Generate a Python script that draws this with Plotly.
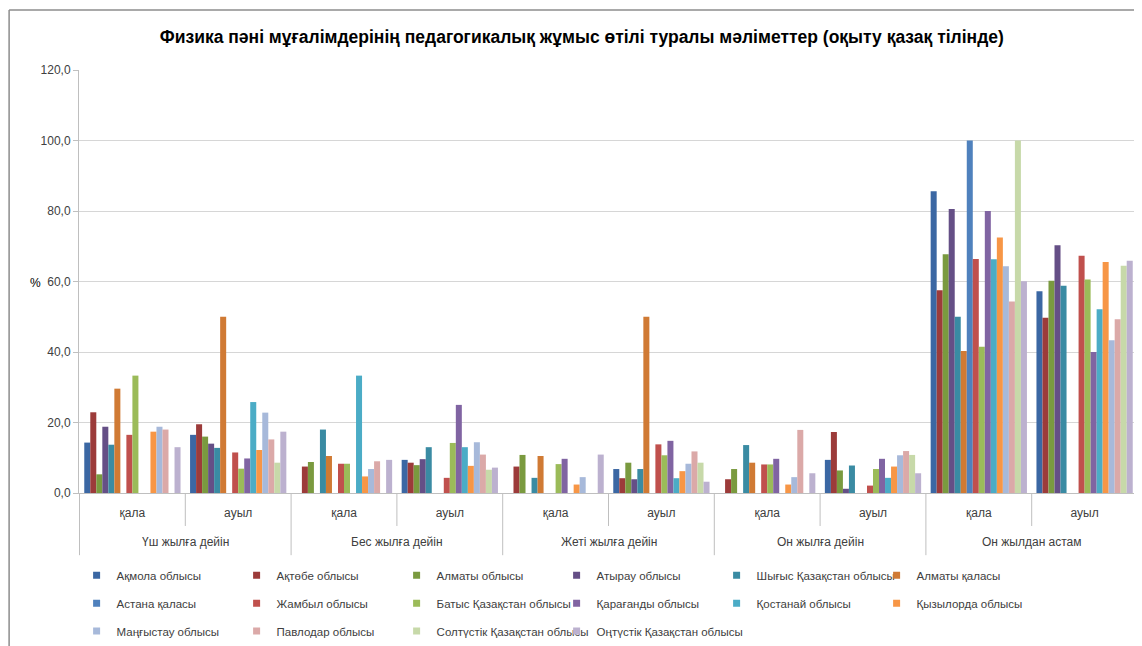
import plotly.graph_objects as go

group_names = ["Үш жылға дейін", "Бес жылға дейін", "Жеті жылға дейін",
               "Он жылға дейін", "Он жылдан астам"]
place_names = ["қала", "ауыл"]
categories = [g + " / " + p for g in group_names for p in place_names]
place_labels = [p for g in group_names for p in place_names]

regions = ["Ақмола облысы", "Ақтөбе облысы", "Алматы облысы", "Атырау облысы",
           "Шығыс Қазақстан облысы", "Алматы қаласы", "Астана қаласы", "Жамбыл облысы",
           "Батыс Қазақстан облысы", "Қарағанды облысы", "Қостанай облысы", "Қызылорда облысы",
           "Маңғыстау облысы", "Павлодар облысы", "Солтүстік Қазақстан облысы",
           "Оңтүстік Қазақстан облысы"]

colors = ["#3B67A3", "#9C3B3A", "#7A9A3F", "#654F86", "#3A8BA3", "#D07A34",
          "#4F81BD", "#C0504D", "#9BBB59", "#8064A2", "#4BACC6", "#F79646",
          "#A7B9DA", "#DBA9A8", "#C7D9A9", "#BCB1CF"]

# values per region, one per category (%)
akmola =     [14.3, 16.5, 0.0, 9.4, 0.0, 6.8, 0.0, 9.4, 85.6, 57.2]
aktobe =     [22.9, 19.5, 7.5, 8.6, 7.5, 4.2, 3.9, 17.3, 57.5, 49.7]
almaty =     [5.3, 16.0, 8.8, 7.9, 10.8, 8.6, 6.8, 6.4, 67.7, 60.2]
atyrau =     [18.8, 14.0, 0.0, 9.6, 0.0, 3.9, 0.0, 1.2, 80.6, 70.3]
shygys =     [13.7, 12.8, 18.0, 13.0, 4.3, 6.8, 13.6, 7.8, 50.0, 58.8]
almaty_c =   [29.6, 50.0, 10.5, 0.0, 10.5, 50.0, 8.6, 0.0, 40.3, 0.0]
astana =     [0.0, 0.0, 0.0, 0.0, 0.0, 0.0, 0.0, 0.0, 100.0, 0.0]
zhambyl =    [16.5, 11.5, 8.3, 4.3, 0.0, 13.8, 8.1, 2.1, 66.4, 67.3]
batys =      [33.3, 6.9, 8.3, 14.2, 8.2, 10.7, 8.1, 6.8, 41.5, 60.6]
karagandy =  [0.0, 9.8, 0.0, 25.0, 9.7, 14.8, 9.7, 9.7, 80.0, 40.0]
kostanay =   [0.0, 25.8, 33.3, 13.0, 0.0, 4.2, 0.0, 4.3, 66.3, 52.1]
kyzylorda =  [17.4, 12.2, 4.7, 7.7, 2.4, 6.2, 2.4, 7.5, 72.5, 65.5]
mangystau =  [18.8, 22.8, 6.8, 14.4, 4.5, 8.3, 4.5, 10.7, 64.3, 43.3]
pavlodar =   [18.0, 15.2, 9.0, 10.9, 0.0, 11.8, 17.9, 11.9, 54.3, 49.3]
soltustik =  [0.0, 8.6, 0.0, 6.6, 0.0, 8.6, 0.0, 10.8, 100.0, 64.5]
ontustik =   [13.0, 17.4, 9.4, 7.2, 10.9, 3.2, 5.6, 5.6, 60.1, 65.9]

series = [akmola, aktobe, almaty, atyrau, shygys, almaty_c, astana, zhambyl,
          batys, karagandy, kostanay, kyzylorda, mangystau, pavlodar, soltustik, ontustik]

font = "Liberation Sans"
axis_grey = "#BFBFBF"
legend_ids = ["legend", "legend2", "legend3"]

fig = go.Figure()
for name, vals, c in zip(regions, series, colors):
    fig.add_trace(go.Bar(name=name, x=categories, y=vals, marker_color=c,
                         marker_line_width=0, showlegend=False, legendgroup=name))

# small square legend keys, six per row like the original
for i, (name, c) in enumerate(zip(regions, colors)):
    fig.add_trace(go.Scatter(name=name, x=[None], y=[None], mode="markers",
                             marker=dict(symbol="square", size=7, color=c),
                             legend=legend_ids[i // 6], legendgroup=name))
# empty entry so the last row is not cut off
fig.add_trace(go.Scatter(name=" ", x=[None], y=[None], mode="markers",
                         marker=dict(color="rgba(0,0,0,0)"), legend="legend3",
                         hoverinfo="skip"))

# the page body adds an 8px margin, so the figure is 8px smaller each way
legend_common = dict(orientation="h", xref="container", yref="container",
                     x=0.0605, xanchor="left", yanchor="middle",
                     entrywidth=115, itemwidth=30, bgcolor="rgba(0,0,0,0)",
                     font=dict(family=font, size=11.5, color="#404040"))
fig.update_layout(
    width=1134, height=638,
    barmode="group", bargap=0.09, bargroupgap=0,
    separators=", ",
    paper_bgcolor="white", plot_bgcolor="white",
    margin=dict(l=71, r=4, t=62, b=153),
    font=dict(family=font, size=12, color="#404040"),
    title=dict(text="<b>Физика пәні мұғалімдерінің педагогикалық жұмыс өтілі туралы мәліметтер (оқыту қазақ тілінде)</b>",
               x=0.506, xanchor="center", y=0.955, yanchor="middle",
               font=dict(family=font, size=17.5, color="black")),
    legend=dict(y=0.111, **legend_common),
    legend2=dict(y=0.067, **legend_common),
    legend3=dict(y=0.0235, **legend_common),
)
fig.update_yaxes(range=[0, 120], dtick=20, tickformat=".1f", showgrid=True,
                 gridcolor="#D6D6D6", showline=True, linecolor=axis_grey,
                 ticks="outside", ticklen=5, tickcolor=axis_grey, zeroline=False,
                 tickfont=dict(size=12, color="#404040"))
fig.update_xaxes(type="category", showline=True, linecolor=axis_grey,
                 tickvals=categories, ticktext=place_labels, ticks="",
                 ticklabelstandoff=9, automargin=False,
                 tickfont=dict(size=12, color="#404040"))

fig.add_annotation(text="%", xref="paper", yref="paper", x=-0.048, y=0.496,
                   showarrow=False, font=dict(size=12, color="black"))

# group labels and separators under the axis
for k, g in enumerate(group_names):
    fig.add_annotation(text=g, xref="x", yref="paper", x=2 * k + 0.5, y=-0.116,
                       showarrow=False, yanchor="middle",
                       font=dict(size=12, color="#404040"))
    fig.add_shape(type="line", xref="x", yref="paper", x0=2 * k + 0.5, x1=2 * k + 0.5,
                  y0=0, y1=-0.078, line=dict(color=axis_grey, width=1))
for k in range(len(group_names) + 1):
    fig.add_shape(type="line", xref="x", yref="paper", x0=2 * k - 0.5, x1=2 * k - 0.5,
                  y0=0, y1=-0.147, line=dict(color=axis_grey, width=1))

# outer frame of the chart area
fig.add_shape(type="line", xref="paper", yref="paper", x0=-0.066, x1=-0.066,
              y0=1.142, y1=-0.4, line=dict(color="#8C8C8C", width=1.5))
fig.add_shape(type="line", xref="paper", yref="paper", x0=-0.066, x1=1.1,
              y0=1.142, y1=1.142, line=dict(color="#8C8C8C", width=1.5))

fig.write_html("out.html")
